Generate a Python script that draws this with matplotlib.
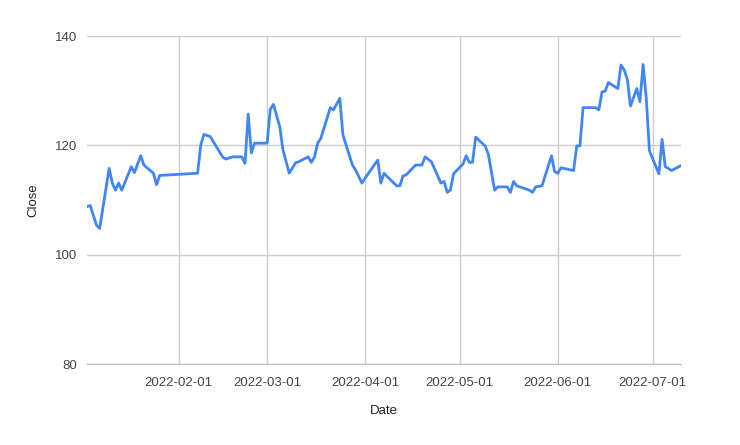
import pandas as pd
import matplotlib.pyplot as plt
import matplotlib.dates as mdates

# Close prices
dates = [
    "2022-01-03", "2022-01-04", "2022-01-06", "2022-01-07", "2022-01-10",
    "2022-01-11", "2022-01-12", "2022-01-13", "2022-01-14", "2022-01-17",
    "2022-01-18", "2022-01-20", "2022-01-21", "2022-01-24", "2022-01-25",
    "2022-01-26", "2022-02-07", "2022-02-08", "2022-02-09", "2022-02-11",
    "2022-02-15", "2022-02-16", "2022-02-18", "2022-02-21", "2022-02-22",
    "2022-02-23", "2022-02-24", "2022-02-25", "2022-03-01", "2022-03-02",
    "2022-03-03", "2022-03-05", "2022-03-06", "2022-03-08", "2022-03-10",
    "2022-03-11", "2022-03-14", "2022-03-15", "2022-03-16", "2022-03-17",
    "2022-03-18", "2022-03-21", "2022-03-22", "2022-03-24", "2022-03-25",
    "2022-03-28", "2022-03-29", "2022-03-31", "2022-04-01", "2022-04-05",
    "2022-04-06", "2022-04-07", "2022-04-08", "2022-04-11", "2022-04-12",
    "2022-04-13", "2022-04-14", "2022-04-17", "2022-04-19", "2022-04-20",
    "2022-04-22", "2022-04-25", "2022-04-26", "2022-04-27", "2022-04-28",
    "2022-04-29", "2022-05-02", "2022-05-03", "2022-05-04", "2022-05-05",
    "2022-05-06", "2022-05-09", "2022-05-10", "2022-05-12", "2022-05-13",
    "2022-05-16", "2022-05-17", "2022-05-18", "2022-05-19", "2022-05-23",
    "2022-05-24", "2022-05-25", "2022-05-27", "2022-05-30", "2022-05-31",
    "2022-06-01", "2022-06-02", "2022-06-06", "2022-06-07", "2022-06-08",
    "2022-06-09", "2022-06-13", "2022-06-14", "2022-06-15", "2022-06-16",
    "2022-06-17", "2022-06-20", "2022-06-21", "2022-06-22", "2022-06-23",
    "2022-06-24", "2022-06-26", "2022-06-27", "2022-06-28", "2022-06-29",
    "2022-06-30", "2022-07-03", "2022-07-04", "2022-07-05", "2022-07-07",
    "2022-07-10",
]
close = [
    108.8, 109.0, 105.4, 104.8, 115.8,
    113.1, 111.8, 113.1, 111.8, 116.1,
    115.0, 118.1, 116.4, 114.9, 112.8,
    114.5, 114.9, 120.1, 122.0, 121.6,
    117.8, 117.5, 117.9, 117.9, 116.7,
    125.7, 118.6, 120.4, 120.4, 126.6,
    127.5, 123.4, 119.2, 114.9, 116.8,
    117.0, 117.9, 116.9, 117.9, 120.4,
    121.3, 126.9, 126.5, 128.6, 121.9,
    116.4, 115.5, 113.1, 114.0, 117.3,
    113.1, 114.9, 114.3, 112.6, 112.6,
    114.4, 114.6, 116.4, 116.4, 117.9,
    117.0, 113.1, 113.4, 111.4, 111.8,
    114.8, 116.6, 118.1, 116.9, 116.9,
    121.5, 119.9, 118.4, 111.8, 112.4,
    112.4, 111.4, 113.4, 112.6, 111.8,
    111.4, 112.4, 112.6, 118.1, 115.2,
    114.9, 115.9, 115.4, 119.9, 119.9,
    126.9, 126.9, 126.5, 129.8, 129.9,
    131.5, 130.4, 134.7, 133.8, 132.1,
    127.2, 130.4, 128.0, 134.8, 128.6,
    119.0, 114.8, 121.1, 116.1, 115.4,
    116.3,
]
y_ticks = [80, 100, 120, 140]

df = pd.DataFrame({"Date": pd.to_datetime(dates), "Close": close})

plt.rcParams["font.family"] = ["Liberation Sans", "DejaVu Sans"]

fig = plt.figure(figsize=(7.4, 4.45), dpi=100)
ax = fig.add_axes([0.1176, 0.182, 0.8027, 0.737])

ax.plot(df["Date"], df["Close"], color="#4285F4", linewidth=2)

ax.set_xlim(df["Date"].min(), df["Date"].max())
ax.set_ylim(80, 140)
ax.set_yticks(y_ticks)
ax.xaxis.set_major_locator(mdates.MonthLocator())
ax.xaxis.set_major_formatter(mdates.DateFormatter("%Y-%m-%d"))

ax.grid(True, color="#cccccc", linewidth=1)
ax.set_axisbelow(True)
for side in ["top", "right", "left"]:
    ax.spines[side].set_visible(False)
ax.spines["bottom"].set_color("#bbbbbb")
ax.tick_params(length=0, labelsize=9.5, labelcolor="#444444")
ax.tick_params(axis="x", pad=9)
ax.tick_params(axis="y", pad=7)

ax.set_xlabel("Date", fontsize=9.5, color="#222222", labelpad=12)
ax.set_ylabel("Close", fontsize=9.5, color="#222222", labelpad=11)

plt.savefig("out.png")
